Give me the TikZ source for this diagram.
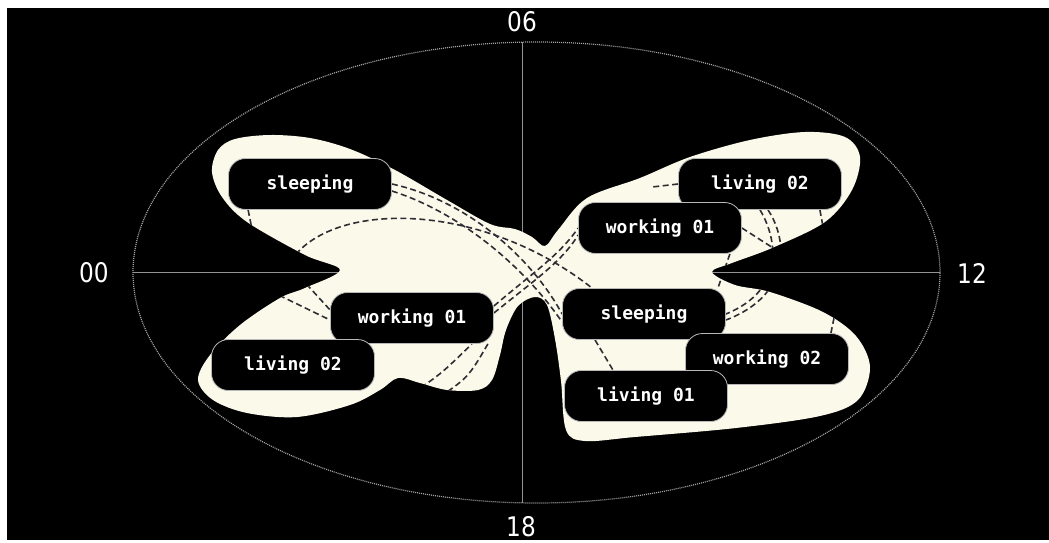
\documentclass[tikz,border=0pt]{standalone}
\usepackage{fontspec}
\usetikzlibrary{backgrounds}
\newfontfamily\boxfont{DejaVu Sans Mono}
\newfontfamily\axfont[FakeStretch=0.86]{DejaVu Sans}
\definecolor{cream}{RGB}{251,249,234}
\definecolor{dashgrey}{RGB}{45,45,52}
\tikzset{room/.style={fill=black,draw=gray!55,line width=.8pt,rounded corners=17pt,minimum width=163pt,minimum height=51pt,inner sep=0pt,text=white,font=\boxfont\bfseries\fontsize{18}{18}\selectfont},
hour/.style={text=white,font=\axfont\fontsize{27}{27}\selectfont,inner sep=0pt},
lnk/.style={dashgrey,line width=1.6pt,dash pattern=on 6pt off 3.5pt}}
% outline of the day wings, pixel coordinates
\def\wings{plot[smooth cycle,tension=.55] coordinates{(340,270) (305,255) (247,222) (222,197) (212,172) (218,150) (235,139) (270,135) (310,138) (350,149) (395,170) (447,200) (490,224) (515,229) (532,237) (545,246) (558,230) (587,198) (640,178) (690,157) (750,140) (805,132) (845,137) (860,157) (852,190) (825,222) (772,248) (732,263) (712,272) (735,285) (770,292) (823,312) (856,336) (870,367) (858,400) (820,416) (736,428) (635,437) (585,441) (566,430) (561,381) (555,339) (547,305) (535,297) (518,306) (506,330) (500,355) (492,380) (478,390) (447,390) (420,383) (398,378) (380,390) (350,405) (297,417) (247,413) (213,400) (198,380) (210,355) (240,325) (280,298) (305,288)}}
\begin{document}
\begin{tikzpicture}[x=1pt,y=-1pt]
\useasboundingbox (0,0) rectangle (1049,543);
\node[hour] (h06) at (522,22){06};\node[hour] (h18) at (521,527){18};\node[hour] (h00) at (94,273){00};\node[hour] (h12) at (972,273){12};
\node[room] (sleepL) at (310,184){sleeping};\node[room] (workL) at (412,318){working 01};\node[room] (livL) at (293,365){living 02};
\node[room] (livR) at (760,184){living 02};\node[room] (workR) at (660,228){working 01};\node[room] (sleepR) at (644,314){sleeping};
\node[room] (work2R) at (767,359){working 02};\node[room] (liv1R) at (646,396){living 01};
\begin{scope}[on background layer]
\fill[white] (0,0) rectangle (1049,543);\fill[black] (7,8) rectangle (1049,540);
\draw[gray!70,line width=1.2pt,dash pattern=on 1pt off 1pt] (536.5,272.5) ellipse [x radius=403.5pt,y radius=230.5pt];
\draw[gray!85,line width=1pt] (522,42)--(522,503) (133,272)--(940,272);
\fill[cream] \wings;
\coordinate (a1) at (290,262);\coordinate (b1) at (405,398);\coordinate (b2) at (432,402);\coordinate (c1) at (262,287);\coordinate (c2) at (300,277);
\coordinate (d1) at (253,234);\coordinate (d2) at (652,187);\coordinate (d3) at (795,262);\coordinate (d4) at (824,232);\coordinate (d5) at (834,318);
\begin{scope}
\clip \wings;
\draw[lnk] (sleepL.east) .. controls (465,200) and (530,255) .. (sleepR.west);
\draw[lnk] ([yshift=-7pt]sleepL.east) .. controls (458,212) and (522,264) .. ([yshift=-8pt]sleepR.west);
\draw[lnk] (a1) .. controls (330,200) and (480,200) .. ([xshift=30pt]sleepR.north west);
\draw[lnk] ([yshift=12pt]workL.east) .. controls (530,275) and (560,255) .. (workR.west);
\draw[lnk] ([yshift=5pt]workL.east) .. controls (532,282) and (562,262) .. ([yshift=-7pt]workR.west);
\draw[lnk] (b1) .. controls (440,375) .. ([xshift=-22pt]workL.south east);
\draw[lnk] (b2) .. controls (468,378) .. ([xshift=-6pt]workL.south east);
\draw[lnk] (c1) -- ([yshift=-2pt]workL.west);\draw[lnk] (c2) -- ([yshift=8pt]workL.west);
\draw[lnk] ([xshift=20pt]sleepL.south west) -- (d1);
\draw[lnk] (livR.west) -- (d2);
\draw[lnk] (livR.south) .. controls (778,240) and (785,290) .. (sleepR.east);
\draw[lnk] ([xshift=8pt]livR.south) .. controls (788,240) and (792,295) .. ([yshift=-6pt]sleepR.east);
\draw[lnk] ([xshift=-12pt]workR.south east) -- ([xshift=-8pt]sleepR.north east);
\draw[lnk] (workR.east) -- (d3);\draw[lnk] ([xshift=-22pt]livR.south east) -- (d4);
\draw[lnk] ([xshift=-49pt]sleepR.south) -- ([xshift=-33pt]liv1R.north);
\draw[lnk] ([xshift=-18pt]work2R.north east) -- (d5);
\end{scope}
\end{scope}
\end{tikzpicture}
\end{document}
